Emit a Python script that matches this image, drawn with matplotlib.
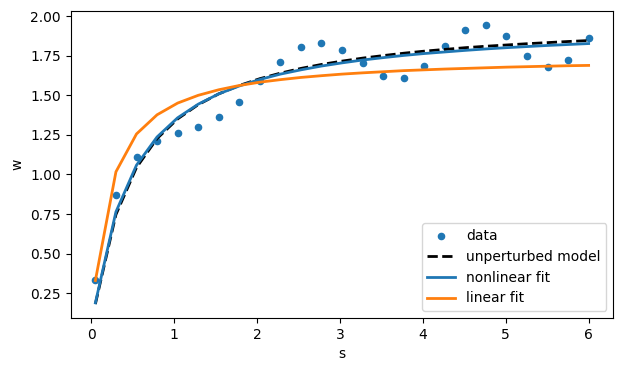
import matplotlib
matplotlib.use("Agg")
import matplotlib.pyplot as plt

s = [0.05, 0.298, 0.546, 0.794, 1.042, 1.290, 1.537, 1.785, 2.033, 2.281,
     2.529, 2.777, 3.025, 3.273, 3.521, 3.769, 4.017, 4.265, 4.513, 4.760,
     5.008, 5.256, 5.504, 5.752, 6.0]

w_data = [0.336, 0.871, 1.108, 1.209, 1.259, 1.297, 1.360, 1.461, 1.590, 1.713,
          1.803, 1.832, 1.788, 1.702, 1.625, 1.612, 1.683, 1.809, 1.914, 1.946,
          1.877, 1.751, 1.681, 1.725, 1.864]

w_model = [0.182, 0.747, 1.044, 1.227, 1.351, 1.441, 1.509, 1.562, 1.605, 1.640,
           1.670, 1.695, 1.716, 1.735, 1.751, 1.766, 1.779, 1.790, 1.801, 1.810,
           1.818, 1.826, 1.833, 1.840, 1.846]

w_nonlin = [0.189, 0.764, 1.059, 1.237, 1.358, 1.444, 1.509, 1.559, 1.600, 1.634,
            1.661, 1.685, 1.705, 1.723, 1.738, 1.752, 1.764, 1.774, 1.784, 1.793,
            1.801, 1.808, 1.815, 1.821, 1.827]

w_lin = [0.330, 1.017, 1.256, 1.377, 1.451, 1.500, 1.535, 1.562, 1.583, 1.599,
         1.613, 1.624, 1.634, 1.642, 1.649, 1.656, 1.661, 1.666, 1.670, 1.674,
         1.678, 1.681, 1.684, 1.687, 1.689]

fig = plt.figure(figsize=(6.22, 3.71), dpi=100)
ax = fig.add_axes([0.1137, 0.143, 0.8723, 0.828])

ax.scatter(s, w_data, s=20, label="data")
ax.plot(s, w_model, "k--", lw=2, label="unperturbed model")
ax.plot(s, w_nonlin, lw=2, label="nonlinear fit")
ax.plot(s, w_lin, lw=2, label="linear fit")

ax.set_xlabel("s")
ax.set_ylabel("w")
ax.legend(loc="lower right")

fig.savefig("out.png", dpi=100)
